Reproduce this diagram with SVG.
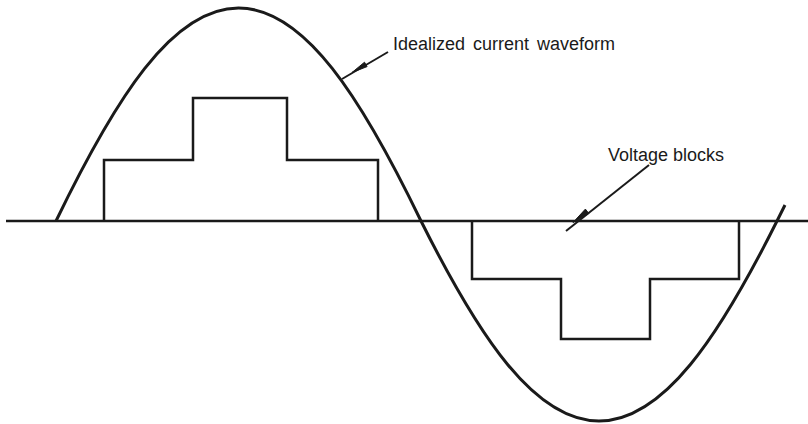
<svg xmlns="http://www.w3.org/2000/svg" width="808" height="424" viewBox="0 0 808 424">
<style>
.ln{fill:none;stroke:#1a1a1a;stroke-linejoin:miter;stroke-linecap:butt}
.wave{stroke-width:3}
.blk{stroke-width:2.5}
.axis{stroke-width:2.5}
.lead{stroke-width:2}
.head{fill:#1a1a1a;stroke:#1a1a1a;stroke-width:1}
.lbl{font-family:"Liberation Sans",Arial,sans-serif;font-size:18px;fill:#1a1a1a}
</style>
<rect width="808" height="424" fill="#fff"/>
<g id="axis"><path class="ln axis" d="M6 221 H808"/></g>
<g id="current-waveform">
<path class="ln wave" d="M56 221 C115.5 98 172.4 8 238.5 8 C304.6 8 361.5 98 421 221 C479 337 534.6 421 599 421 C663.4 421 719 337 777 221 L785 205"/>
</g>
<g id="voltage-block-positive"><path class="ln blk" d="M104 221 V160 H193 V98 H287 V160 H378 V221"/></g>
<g id="voltage-block-negative"><path class="ln blk" d="M472 221 V279 H561 V339 H650 V279 H739 V221"/></g>
<g id="connectors">
<path class="ln lead" d="M388 52 L342 79"/>
<polygon class="head" points="352,72.5 367.1,66.6 364.5,62.2"/>
<path class="ln lead" d="M649 165 L566 231"/>
<polygon class="head" points="573,222.5 588.8,213.5 585.4,209.1"/>
</g>
<g id="label-current"><text class="lbl" x="393" y="50" word-spacing="3">Idealized current waveform</text></g>
<g id="label-voltage"><text class="lbl" x="608" y="161">Voltage blocks</text></g>
</svg>
